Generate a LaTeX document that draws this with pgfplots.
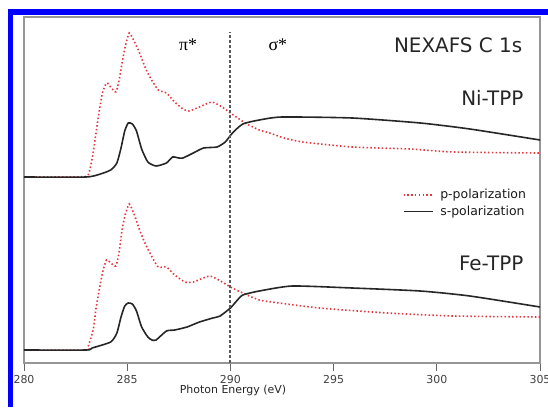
\documentclass[border=0pt]{standalone}
\usepackage{pgfplots}
\pgfplotsset{compat=1.18}
\usepackage{fontspec}
\setmainfont{DejaVu Sans}
\newfontfamily\greekserif{Liberation Serif}
\definecolor{pred}{RGB}{228,55,60}
\definecolor{framegray}{RGB}{150,150,150}
\begin{document}
\begin{tikzpicture}[x=1bp,y=1bp]
\useasboundingbox (0,0) rectangle (548,407);
\fill[blue] (8,392) rectangle (548,398);
\fill[blue] (7.5,0) rectangle (12.5,398);
\begin{axis}[
  at={(24bp,44bp)}, anchor=south west,
  scale only axis, width=516bp, height=346bp,
  xmin=280, xmax=305, ymin=0, ymax=346,
  axis line style={framegray, line width=1.1bp},
  xtick={280,285,...,305},
  ytick=\empty,
  xtick pos=bottom,
  xtick align=outside,
  major tick length=8bp,
  tick style={black!60, line width=0.9bp},
  /pgf/number format/assume math mode=true,
  xticklabel style={font=\fontsize{11}{12}\selectfont, text=black!75, yshift=-1bp},
  xlabel={Photon Energy (eV)},
  xlabel style={font=\fontsize{11}{12}\selectfont, at={(axis description cs:0.405,0)}, anchor=north, yshift=-19bp, text=black!85},
  legend style={draw=none, fill=none, at={(rel axis cs:0.977,0.462)}, anchor=east,
    font=\fontsize{12.5}{14}\selectfont, row sep=1.5bp, inner sep=0pt, text=black!90},
  legend cell align=left,
  legend image code/.code={\draw[#1] (0bp,0bp) -- (29bp,0bp); \path (34bp,0bp);},
  clip=false,
]
% Ni-TPP p-polarization
\addplot[pred, line width=1.6bp, dash pattern=on 1.5bp off 2.3bp, smooth, tension=0.35] coordinates {
(280.0,186) (282.0,186) (283.0,186.5) (283.15,190) (283.35,210) (283.6,246) (283.8,270) (284.0,280) (284.2,276) (284.45,271) (284.6,282) (284.75,300) (284.9,316) (285.1,330) (285.38,320) (285.6,310) (285.86,296) (286.1,286) (286.5,273) (286.9,270) (287.3,261) (287.7,254) (288.0,252) (288.5,256) (289.1,261) (289.6,256) (290.0,250) (290.5,243) (290.7,240) (291.4,233) (291.9,230) (292.6,225) (293.5,221) (295.9,216) (298.7,214) (300.8,211) (305,210)
};
\addlegendentry{p-polarization}
% Ni-TPP s-polarization
\addplot[black!85, line width=1.6bp, smooth, tension=0.35] coordinates {
(280,186) (283.0,186) (283.7,189) (284.2,193) (284.5,200) (284.7,215) (284.88,232) (285.05,240) (285.25,239) (285.45,232) (285.7,214) (286.0,201) (286.4,197) (286.9,200) (287.2,206) (287.5,205) (287.7,205) (288.2,210) (288.7,215) (289.35,216) (289.75,221) (290.1,230) (290.6,239) (291.4,243) (292.5,246) (295.9,245) (299.2,240) (301.6,234) (305,223)
};
\addlegendentry{s-polarization}
% Fe-TPP p-polarization
\addplot[pred, line width=1.6bp, dash pattern=on 1.5bp off 2.3bp, smooth, tension=0.35, forget plot] coordinates {
(280,13) (283.0,13) (283.1,16) (283.35,33) (283.5,56) (283.8,90) (284.0,103) (284.2,100) (284.45,97) (284.6,110) (284.75,133) (284.9,148) (285.1,159) (285.35,148) (285.6,133) (285.86,120) (286.1,110) (286.5,96) (286.9,96) (287.3,88) (287.8,81) (288.2,81) (289.0,87) (289.6,81) (290.0,76) (290.8,68) (291.4,63) (292.0,61) (294.3,55) (297.6,50) (300.8,47) (305,46)
};
% Fe-TPP s-polarization
\addplot[black!85, line width=1.6bp, smooth, tension=0.35, forget plot] coordinates {
(280,13) (283.0,13) (283.3,15) (284.2,21) (284.5,30) (284.7,46) (284.88,57) (285.05,60) (285.25,59) (285.45,52) (285.7,36) (286.0,26) (286.2,23) (286.4,23) (286.9,32) (287.3,33) (287.9,36) (288.5,41) (289.15,45) (289.5,47) (290.0,55) (290.3,62) (290.6,68) (291.4,72) (293.0,77) (295.9,75) (299.2,72) (301.6,67) (305,56)
};
% separator
\addplot[black!65, line width=1.9bp, dash pattern=on 3bp off 2bp, forget plot] coordinates {(290,0) (290,331)};
\node[font=\greekserif\fontsize{18}{18}\selectfont, text=black] at (axis cs:287.95,318) {π*};
\node[font=\greekserif\fontsize{18}{18}\selectfont, text=black] at (axis cs:292.3,318) {σ*};
\node[font=\fontsize{20}{20}\selectfont, anchor=east, inner sep=0pt, text=black!85] at (axis cs:304.15,318) {NEXAFS C 1s};
\node[font=\fontsize{20}{20}\selectfont, anchor=east, inner sep=0pt, text=black!85] at (axis cs:304.2,265) {Ni-TPP};
\node[font=\fontsize{20}{20}\selectfont, anchor=east, inner sep=0pt, text=black!85] at (axis cs:304.2,100) {Fe-TPP};
\end{axis}
\end{tikzpicture}
\end{document}
